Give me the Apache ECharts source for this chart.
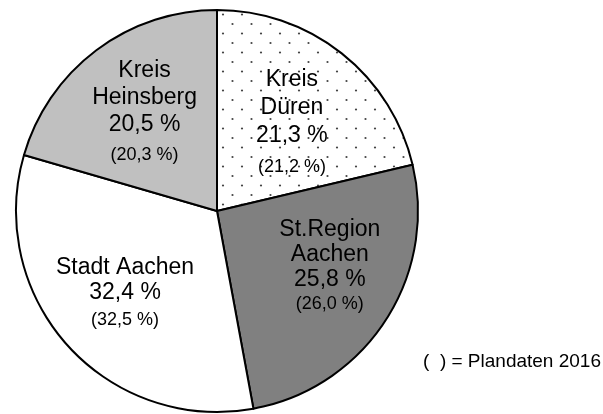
<!DOCTYPE html>
<html>
<head>
<meta charset="utf-8">
<script src="https://cdn.jsdelivr.net/npm/echarts@6/dist/echarts.min.js"></script>
<style>
html,body{margin:0;padding:0;background:#fff;}
#chart{width:603px;height:414px;}
</style>
</head>
<body>
<div id="chart"></div>
<script>
const categories = ['Kreis\nDüren', 'St.Region\nAachen', 'Stadt Aachen', 'Kreis\nHeinsberg'];
const values = [21.3, 25.8, 32.4, 20.5];
const plan2016 = [21.2, 26.0, 32.5, 20.3];
const noteText = '(  ) = Plandaten 2016';

// label layout tweaks (line heights and nudges), kept apart from the data
const lineA = [28, 25, 25.5, 27];
const lineB = [34, 25, 28.5, 35];
const nudge = [[-2, 11], [9, -12], [0, 0], [2, 3]];

// dotted pattern for Kreis Düren
const tile = document.createElement('canvas');
tile.width = 19; tile.height = 19;
const tctx = tile.getContext('2d');
tctx.fillStyle = '#fff';
tctx.fillRect(0, 0, 19, 19);
tctx.fillStyle = '#444';
tctx.beginPath(); tctx.arc(4.5, 5, 1.1, 0, Math.PI * 2); tctx.fill();
tctx.beginPath(); tctx.arc(14, 14.5, 1.1, 0, Math.PI * 2); tctx.fill();

const fills = [{image: tile, repeat: 'repeat'}, '#808080', '#ffffff', '#c0c0c0'];
const fmt = v => v.toFixed(1).replace('.', ',') + ' %';

const sliceData = categories.map((c, i) => ({
  name: c, value: values[i],
  itemStyle: {color: fills[i]}
}));
const labelData = categories.map((c, i) => ({
  name: c, value: values[i], plan: plan2016[i],
  label: {
    rich: {
      a: {fontFamily: 'Liberation Sans', fontSize: 23, lineHeight: lineA[i], color: '#000'},
      b: {fontFamily: 'Liberation Sans', fontSize: 18, lineHeight: lineB[i], color: '#000'}
    }
  }
}));

const chart = echarts.init(document.getElementById('chart'), null, {renderer: 'canvas'});
chart.setOption({
  animation: false,
  backgroundColor: '#fff',
  title: {
    text: noteText, left: 423, top: 352, padding: 0,
    textStyle: {fontFamily: 'Liberation Sans', fontSize: 19, fontWeight: 'normal', color: '#000'}
  },
  series: [{
    type: 'pie',
    center: [217, 211],
    radius: [0, 201],
    startAngle: 90,
    clockwise: true,
    silent: true,
    label: {show: false},
    labelLine: {show: false},
    itemStyle: {borderColor: '#000', borderWidth: 2},
    data: sliceData
  }, {
    type: 'pie',
    center: [217, 211],
    radius: [40, 202],
    startAngle: 90,
    clockwise: true,
    silent: true,
    avoidLabelOverlap: false,
    itemStyle: {color: 'rgba(0,0,0,0)', borderWidth: 0},
    labelLine: {show: false},
    labelLayout: p => ({dx: nudge[p.dataIndex][0], dy: nudge[p.dataIndex][1]}),
    label: {
      show: true,
      position: 'inside',
      color: '#000',
      fontFamily: 'Liberation Sans',
      formatter: p => {
        const lines = p.name.split('\n').map(s => '{a|' + s + '}');
        lines.push('{a|' + fmt(p.value) + '}');
        lines.push('{b|(' + fmt(p.data.plan) + ')}');
        return lines.join('\n');
      },
      rich: {
        a: {fontFamily: 'Liberation Sans', fontSize: 23, lineHeight: 26, color: '#000'},
        b: {fontFamily: 'Liberation Sans', fontSize: 18, lineHeight: 30, color: '#000'}
      }
    },
    data: labelData
  }]
});
</script>
</body>
</html>
